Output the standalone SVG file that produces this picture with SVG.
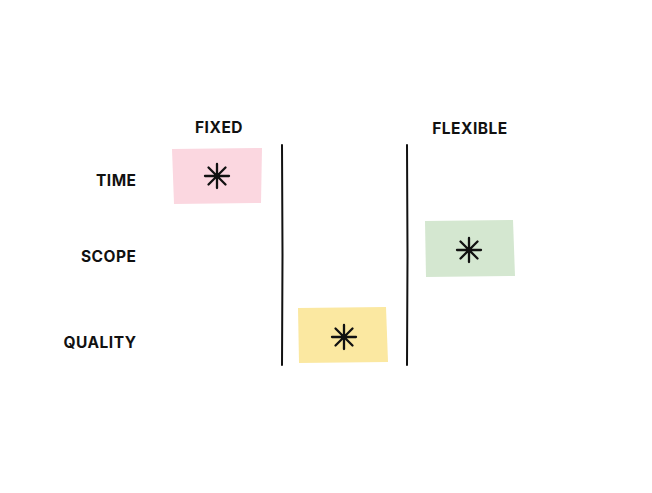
<svg xmlns="http://www.w3.org/2000/svg" width="652" height="493" viewBox="0 0 652 493">
<style>
.lbl{font-family:Inter,"Liberation Sans",sans-serif;font-weight:700;font-size:15.5px;letter-spacing:0.5px;fill:#111;}
.r{text-anchor:end}
.c{text-anchor:middle}
.ast{stroke:#111;stroke-width:2.3;stroke-linecap:round;fill:none}
.div{stroke:#111;stroke-width:2;fill:none;stroke-linecap:round}
</style>
<defs>
<g id="star">
<path class="ast" d="M0,-12V12M-12,0H12M-8.5,-8.5L8.5,8.5M-8.5,8.5L8.5,-8.5"/>
</g>
</defs>
<rect width="652" height="493" fill="#fff"/>
<g id="headers">
<text class="lbl c" x="219" y="133">FIXED</text>
<text class="lbl c" x="470" y="134">FLEXIBLE</text>
</g>
<g id="rows">
<text class="lbl r" x="136.5" y="186">TIME</text>
<text class="lbl r" x="136.5" y="262">SCOPE</text>
<text class="lbl r" x="136.5" y="348">QUALITY</text>
</g>
<g id="connectors">
<path class="div" d="M282,145 L282.5,255 L282,365"/>
<path class="div" d="M407,145 L407.5,255 L407,365"/>
</g>
<g id="time-fixed">
<path d="M172,149 L262,148 L261,203 L174,204 Z" fill="#fbd7e0"/>
<use href="#star" x="217" y="176"/>
</g>
<g id="scope-flexible">
<path d="M425,221 L513,220 L515,276 L426,277 Z" fill="#d4e7d0"/>
<use href="#star" x="469" y="250"/>
</g>
<g id="quality-middle">
<path d="M298,308 L386,307 L388,362 L299,363 Z" fill="#fbe8a1"/>
<use href="#star" x="344" y="337"/>
</g>
</svg>
